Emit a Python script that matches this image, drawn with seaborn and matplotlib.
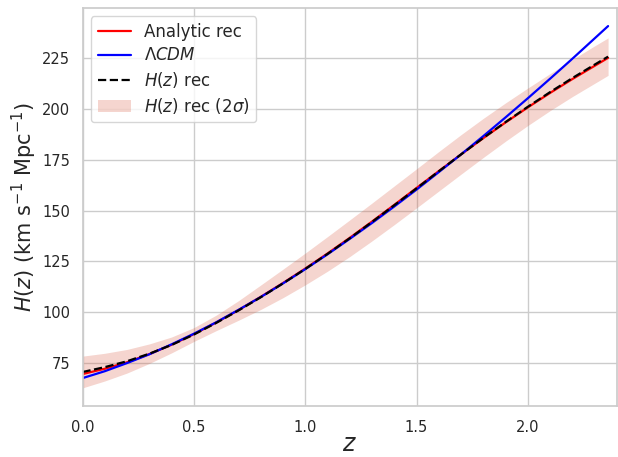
import numpy as np
import pandas as pd
import matplotlib
matplotlib.use("Agg")
import matplotlib.pyplot as plt
import seaborn as sns

z = [0.0, 0.1, 0.2, 0.3, 0.4, 0.5, 0.6, 0.7, 0.8, 0.9, 1.0, 1.1, 1.2,
     1.3, 1.4, 1.5, 1.6, 1.7, 1.8, 1.9, 2.0, 2.1, 2.2, 2.3, 2.36]

h_analytic = [69.7, 72.3, 75.5, 79.5, 84.1, 89.3, 95.0, 101.1, 107.6, 114.4,
              121.5, 128.9, 136.6, 144.6, 152.8, 161.1, 169.4, 177.6, 185.6,
              193.3, 200.7, 207.8, 214.6, 221.1, 225.0]

h_lcdm = [67.7, 71.1, 75.1, 79.4, 84.3, 89.5, 95.1, 101.2, 107.5, 114.2,
          121.2, 128.5, 136.1, 143.9, 152.0, 160.3, 168.9, 177.6, 186.6,
          195.8, 205.2, 214.8, 224.6, 234.6, 240.6]

h_rec = [70.7, 73.1, 76.0, 79.7, 84.0, 89.1, 94.8, 100.9, 107.4, 114.2,
         121.3, 128.7, 136.4, 144.4, 152.6, 160.9, 169.3, 177.6, 185.7,
         193.5, 201.0, 208.2, 215.1, 221.7, 225.6]

h_rec_lo = [62.9, 66.3, 70.2, 74.9, 80.1, 85.7, 91.0, 96.1, 101.4, 107.2,
            113.5, 120.2, 127.4, 135.1, 143.1, 151.3, 159.6, 167.9, 176.1,
            184.1, 191.8, 199.1, 206.0, 212.5, 216.4]

h_rec_hi = [78.5, 79.9, 81.8, 84.5, 87.9, 92.5, 98.6, 105.7, 113.4, 121.2,
            129.1, 137.2, 145.4, 153.7, 162.1, 170.5, 179.0, 187.3, 195.3,
            202.9, 210.2, 217.3, 224.2, 230.9, 234.8]

x_ticks = [0.0, 0.5, 1.0, 1.5, 2.0]
y_ticks = [75, 100, 125, 150, 175, 200, 225]

df = pd.DataFrame({"z": z, "analytic": h_analytic, "lcdm": h_lcdm,
                   "rec": h_rec, "lo": h_rec_lo, "hi": h_rec_hi})

sns.set_theme(style="whitegrid")
plt.rcParams["font.family"] = ["DejaVu Sans"]

fig, ax = plt.subplots(figsize=(6.18, 4.57), dpi=100)
fig.subplots_adjust(left=82.5 / 618, right=617 / 618, bottom=1 - 406 / 457, top=1 - 8 / 457)

sns.lineplot(data=df, x="z", y="analytic", color="red", lw=1.6, ax=ax,
             label="Analytic rec", sort=False)
sns.lineplot(data=df, x="z", y="lcdm", color="blue", lw=1.6, ax=ax,
             label=r"$\Lambda CDM$", sort=False)
sns.lineplot(data=df, x="z", y="rec", color="black", lw=1.6, ls="--", ax=ax,
             label=r"$H(z)$ rec", sort=False)
ax.fill_between(df["z"], df["lo"], df["hi"], color=(0.85, 0.35, 0.25), alpha=0.25,
                lw=0, label=r"$H(z)$ rec $(2\sigma)$")

ax.set_xlim(0, 2.4)
ax.set_xticks(x_ticks)
ax.set_yticks(y_ticks)
ax.tick_params(axis="x", labelsize=10.5, pad=4)
ax.tick_params(axis="y", labelsize=10.5, pad=3)
ax.set_xlabel(r"$z$", fontsize=17)
ax.set_ylabel(r"$H(z)$ (km s$^{-1}$ Mpc$^{-1}$)", fontsize=15)
ax.xaxis.set_label_coords(0.5, -0.065)
ax.yaxis.set_label_coords(-0.082, 0.5)
ax.legend(loc="upper left", fontsize=12, labelspacing=0.33, frameon=True)

fig.savefig("out.png", dpi=100)
